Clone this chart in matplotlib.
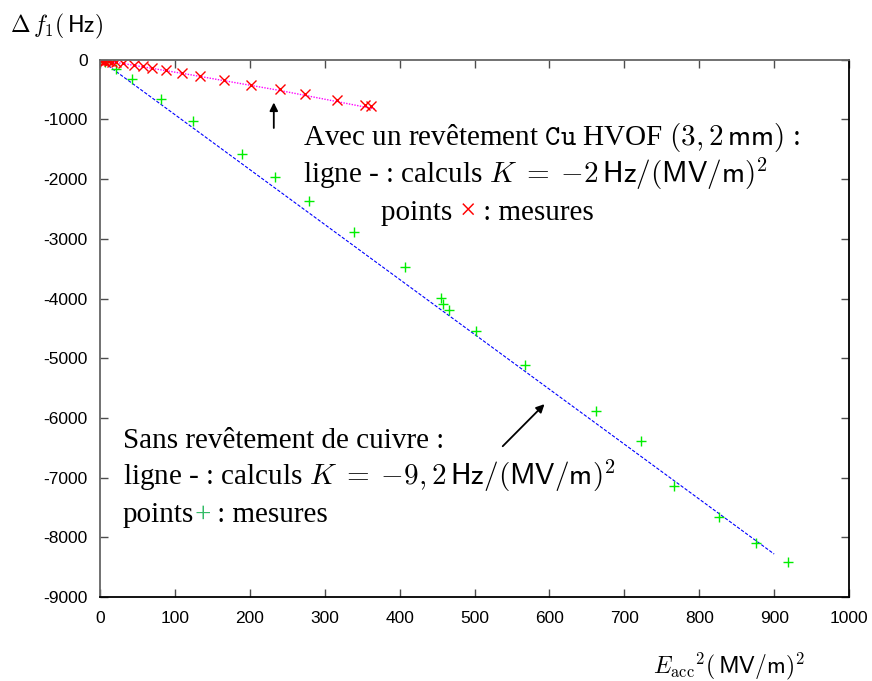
import numpy as np
import matplotlib
matplotlib.use('Agg')
import matplotlib.pyplot as plt

plt.rcParams['font.family'] = ['Liberation Serif', 'DejaVu Serif']
plt.rcParams['mathtext.fontset'] = 'cm'
plt.rcParams['axes.unicode_minus'] = False

# ===== Données =====
# Sans revêtement : mesures (+) et calcul K = -9.2
e2_nu = [0, 6, 21, 43, 81, 124, 190, 233, 279, 339, 407, 455, 458, 466,
         502, 567, 662, 722, 766, 827, 876, 919]
df_nu = [0, -40, -156, -330, -659, -1034, -1581, -1972, -2363, -2888, -3464,
         -3983, -4089, -4190, -4542, -5106, -5888, -6391, -7135, -7664,
         -8090, -8408]
e2_calc_nu = [0, 900]
df_calc_nu = [0, -8280]

# Avec revêtement Cu HVOF : mesures (x) et calcul K = -2
e2_cu = [0, 1, 2, 3, 5, 7, 9, 12, 16, 22, 31, 46, 58, 70, 88, 110, 134,
         166, 201, 240, 273, 316, 354, 362]
df_cu = [0, -5, -10, -3, -15, -20, -8, -28, -35, -45, -56, -95, -112, -140,
         -179, -223, -268, -335, -419, -492, -575, -670, -754, -782]
e2_calc_cu = [0, 120, 240, 367]
df_calc_cu = [0, -250, -515, -825]

xticks = np.arange(0, 1001, 100)
yticks = np.arange(-9000, 1, 1000)

# ===== Figure =====
fig = plt.figure(figsize=(8.72, 6.81), dpi=100)
ax = fig.add_axes([0.1147, 0.1233, 0.859, 0.789])

ax.plot(e2_calc_nu, df_calc_nu, color='blue', lw=0.8, ls=(0, (3, 1.5)))
ax.plot(e2_nu, df_nu, ls='none', marker='+', ms=7, mew=1.0, color='#00ee00')
ax.plot(e2_calc_cu, df_calc_cu, color='magenta', lw=1.0, ls=(0, (1, 1)))
ax.plot(e2_cu, df_cu, ls='none', marker='x', ms=6.5, mew=1.0, color='red')

ax.set_xlim(0, 1000)
ax.set_ylim(-9000, 0)
ax.set_xticks(xticks)
ax.set_yticks(yticks)
ax.set_xticklabels([str(v) for v in xticks], family='Liberation Sans', fontsize=12.5)
ax.set_yticklabels([str(v) for v in yticks], family='Liberation Sans', fontsize=12.5)
ax.tick_params(direction='in', length=6, width=1, top=True, right=True, color='0.3')
ax.tick_params(axis='x', pad=10)
ax.tick_params(axis='y', pad=9)
for side in ['left', 'top']:
    ax.spines[side].set_color('0.4')
for side in ['right', 'bottom']:
    ax.spines[side].set_color('black')
for s in ax.spines.values():
    s.set_linewidth(1.3)

# flèches
arrow = dict(arrowstyle='-|>', color='black', lw=1.3, mutation_scale=12)
ax.annotate('', xy=(232, -670), xytext=(232, -1190), arrowprops=arrow)
ax.annotate('', xy=(596, -5736), xytext=(535, -6507), arrowprops=arrow)

fs = 21
fig.canvas.draw()
renderer = fig.canvas.get_renderer()


def chain(parts, x, y):
    # écrit des morceaux de texte à la suite sur la même ligne de base
    for txt, col in parts:
        t = ax.text(x, y, txt, transform=ax.transAxes, fontsize=fs,
                    color=col, va='baseline', ha='left')
        bb = t.get_window_extent(renderer)
        x = ax.transAxes.inverted().transform((bb.x1, bb.y0))[0]


# bloc "avec revêtement"
ax.text(0.271, 0.842, r'Avec un revêtement $\mathtt{Cu}$ HVOF $(3,2\,\mathsf{mm})$ :',
        transform=ax.transAxes, fontsize=fs, va='baseline')
ax.text(0.271, 0.771, r'ligne - : calculs $K\;=\;{-2}\,\mathsf{Hz}/(\mathsf{MV}/\mathsf{m})^2$',
        transform=ax.transAxes, fontsize=fs, va='baseline')
chain([('points ', 'black'), ('×', 'red'), (' : mesures', 'black')], 0.375, 0.702)

# bloc "sans revêtement"
ax.text(0.0304, 0.2775, 'Sans revêtement de cuivre :',
        transform=ax.transAxes, fontsize=fs, va='baseline')
ax.text(0.0304, 0.2086, r'ligne - : calculs $K\;=\;{-9,2}\,\mathsf{Hz}/(\mathsf{MV}/\mathsf{m})^2$',
        transform=ax.transAxes, fontsize=fs, va='baseline')
chain([('points', 'black'), ('+', '#33bb66'), (' : mesures', 'black')], 0.0304, 0.1397)

# titres des axes
fig.text(10 / 872, 1 - 32 / 681, r'$\Delta\,f_1(\,\mathsf{Hz})$', fontsize=17, va='baseline')
fig.text(653 / 872, 1 - 673 / 681, r'$E_{\mathrm{acc}}{}^{2}(\,\mathsf{MV/m})^2$',
         fontsize=17, va='baseline')

plt.savefig('out.png', dpi=100)
